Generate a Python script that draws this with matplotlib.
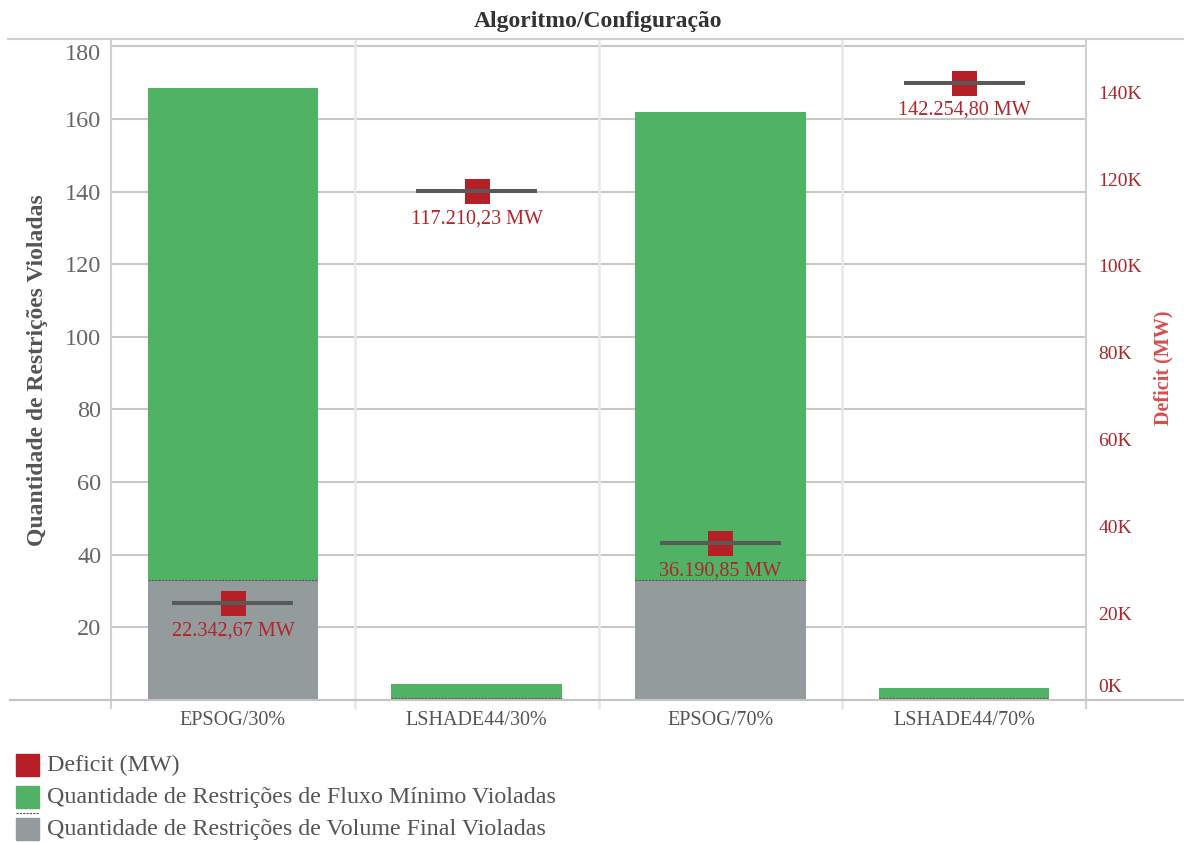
import matplotlib.pyplot as plt
from matplotlib.patches import Rectangle
from matplotlib.lines import Line2D

# dados
categorias = ['EPSOG/30%', 'LSHADE44/30%', 'EPSOG/70%', 'LSHADE44/70%']
volume_final = [33, 0.5, 33, 0.5]
fluxo_minimo = [135.5, 4.0, 129, 2.9]
deficit = [22342.67, 117210.23, 36190.85, 142254.80]
deficit_rotulos = ['22.342,67 MW', '117.210,23 MW', '36.190,85 MW', '142.254,80 MW']
ticks_esq = [20, 40, 60, 80, 100, 120, 140, 160, 180]
ticks_dir = [0, 20000, 40000, 60000, 80000, 100000, 120000, 140000]

plt.rcParams['font.family'] = ['Liberation Serif', 'DejaVu Serif']

W, H = 1184, 842
fig = plt.figure(figsize=(W / 100, H / 100), dpi=100)
ax = fig.add_axes([111 / W, 142 / H, 975 / W, 661 / H])
ax2 = ax.twinx()

x = list(range(len(categorias)))
ax.bar(x, volume_final, width=0.7, color='#939b9d', zorder=2)
ax.bar(x, fluxo_minimo, width=0.7, bottom=volume_final, color='#4fb265', zorder=2)
ax.hlines(volume_final, [i - 0.35 for i in x], [i + 0.35 for i in x],
          colors='#555555', linestyles=(0, (2, 1)), lw=0.8, zorder=3)

ax.set_xlim(-0.5, 3.5)
ax.set_ylim(0, 182)
ax.set_yticks(ticks_esq, [str(v) for v in ticks_esq[:-1]] + [''])
ax.annotate(str(ticks_esq[-1]), xy=(0, ticks_esq[-1]), xycoords=('axes fraction', 'data'),
            xytext=(-10, -8.5), textcoords='offset pixels', ha='right', va='center',
            fontsize=17.5, color='#666666')
ax.grid(axis='y', color='#c8c8c8', lw=1.5, zorder=0)
ax.set_axisbelow(True)
for s in ax.spines.values():
    s.set_visible(False)
for s in ax2.spines.values():
    s.set_visible(False)

# separadores verticais
for xs in [0.5, 1.5, 2.5]:
    ax.axvline(xs, ymin=-0.012, ymax=1, color='#e8e8e8', lw=1.8, clip_on=False, zorder=1)
for xs in [-0.5, 3.5]:
    ax.axvline(xs, ymin=-0.012, ymax=1, color='#d0d0d0', lw=1.5, clip_on=False, zorder=1)

ax.set_xticks(x, categorias)
ax.tick_params(axis='x', length=0, labelsize=14.5, labelcolor='#555555', pad=8)
ax.tick_params(axis='y', length=0, labelsize=17.5, labelcolor='#666666', pad=7)

# deficit
ax2.set_ylim(0, 152300)
ax2.set_yticks(ticks_dir, [''] + [f'{v // 1000}K' for v in ticks_dir[1:]])
ax2.tick_params(axis='y', length=0, labelsize=14, labelcolor='#a8262c', pad=9)
ax2.annotate('0K', xy=(1, 0), xycoords=('axes fraction', 'data'), xytext=(12, 12),
             textcoords='offset pixels', ha='left', va='center', fontsize=14, color='#a8262c')
ax2.scatter(x, deficit, marker='s', s=18 ** 2, color='#b51f25', linewidths=0, zorder=3)
ax2.hlines(deficit, [i - 0.248 for i in x], [i + 0.248 for i in x],
           colors='#58595b', lw=2.9, zorder=4)
for i, (d, r) in enumerate(zip(deficit, deficit_rotulos)):
    ax2.annotate(r, (i, d), xytext=(0, -20), textcoords='offset points',
                 ha='center', va='center', fontsize=14.5, color='#b1262c')

# linhas de moldura
fig.add_artist(Line2D([8 / W, 1], [1 - 39 / H, 1 - 39 / H], color='#d0d0d0', lw=1.5))
fig.add_artist(Line2D([10 / W, 1], [142 / H, 142 / H], color='#c4c4c4', lw=1.5))

fig.text(598 / W, 1 - 22 / H, 'Algoritmo/Configuração', ha='center', va='center',
         fontsize=17, fontweight='bold', color='#333333')
fig.text(38 / W, 1 - 370 / H, 'Quantidade de Restrições Violadas', rotation=90,
         ha='center', va='center', fontsize=17, fontweight='bold', color='#555555')
fig.text(1163 / W, 1 - 368 / H, 'Deficit (MW)', rotation=90,
         ha='center', va='center', fontsize=14.5, fontweight='bold', color='#db4c4c')

# legenda
legenda = [('Deficit (MW)', '#b51f25'),
           ('Quantidade de Restrições de Fluxo Mínimo Violadas', '#4fb265'),
           ('Quantidade de Restrições de Volume Final Violadas', '#939b9d')]
for k, (txt, cor) in enumerate(legenda):
    yc = 765 + 32 * k
    fig.add_artist(Rectangle((16 / W, 1 - (yc + 11) / H), 23 / W, 22 / H,
                             color=cor, transform=fig.transFigure))
    fig.text(47 / W, 1 - yc / H, txt, ha='left', va='center', fontsize=17.3, color='#555555')
# bordas pontilhadas entre verde e cinza na legenda
fig.add_artist(Line2D([16 / W, 39 / W], [1 - 812.5 / H, 1 - 812.5 / H],
                      color='#555555', lw=0.8, ls=(0, (2, 1))))

fig.savefig('out.png', dpi=100)
